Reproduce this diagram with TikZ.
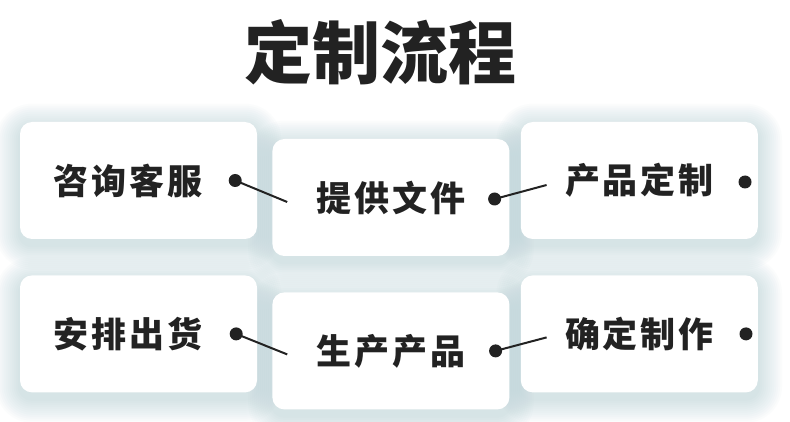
\documentclass[tikz,border=0pt]{standalone}
\usepackage{fontspec}
\usepackage{xcolor}
\usetikzlibrary{positioning,backgrounds}
\newfontfamily\cjk{Noto Sans CJK SC}
\newfontfamily\cjkbox{Noto Sans CJK SC}[LetterSpace=8]
\definecolor{inkgray}{HTML}{222222}
\definecolor{glow}{HTML}{A9C8CE}

\begin{document}
\begin{tikzpicture}[x=1pt, y=-1pt, node distance=15pt, >=latex]
    \tikzstyle{card}=[rectangle, fill=white, rounded corners=12pt, minimum width=237pt, minimum height=117pt, inner sep=0pt, text=inkgray, font=\cjkbox\bfseries\fontsize{35}{35}\selectfont]
    \tikzstyle{dot}=[circle, fill=inkgray, minimum size=13pt, inner sep=0pt]
    \tikzstyle{link}=[draw=inkgray, line width=2pt]

    \useasboundingbox (0,0) rectangle (790,422);

    \node[text=inkgray, font=\cjk\bfseries\fontsize{68}{68}\selectfont] (title) at (380,52) {定制流程};

    % cards
    \node[card] (consult) at (138.5,180.5) {咨询客服\hspace*{21pt}};
    \node[card, right=of consult, yshift=-17pt] (files) {提供文件};
    \node[card, right=11pt of files, yshift=17pt] (custom) {产品定制};
    \node[card, below=36pt of consult] (ship) {安排出货\hspace*{21pt}};
    \node[card, below=36pt of files] (produce) {生产产品};
    \node[card, below=36pt of custom] (confirm) {确定制作};

    % dots
    \node[dot] (dconsult) at ([xshift=-22pt]consult.east) {};
    \node[dot] (dfiles) at ([xshift=-15pt, yshift=-1.5pt]files.east) {};
    \node[dot] (dcustom) at ([xshift=-13pt, yshift=-1.5pt]custom.east) {};
    \node[dot] (dship) at ([xshift=-21pt]ship.east) {};
    \node[dot] (dproduce) at ([xshift=-14pt]produce.east) {};
    \node[dot] (dconfirm) at ([xshift=-12pt]confirm.east) {};

    \coordinate (efiles) at ([xshift=15pt, yshift=-4.5pt]files.west);
    \coordinate (ecustom) at ([xshift=26pt, yshift=-4.5pt]custom.west);
    \coordinate (eproduce) at ([xshift=15pt, yshift=-3.5pt]produce.west);
    \coordinate (econfirm) at ([xshift=26pt, yshift=-3.5pt]confirm.west);

    \draw[link] (dconsult.center) -- (efiles);
    \draw[link] (dfiles.center) -- (ecustom);
    \draw[link] (dship.center) -- (eproduce);
    \draw[link] (dproduce.center) -- (econfirm);

    % soft glow behind the cards
    \begin{scope}[on background layer]
        \fill[white] (0,0) rectangle (790,422);
        \foreach \c in {consult, files, custom, ship, produce, confirm}
            \foreach \d in {2,4,...,24}
                \fill[glow, opacity=0.045, rounded corners=12pt+\d pt]
                    ([xshift=-\d pt, yshift=\d pt-6pt]\c.north west) rectangle ([xshift=\d pt, yshift=-\d pt-6pt]\c.south east);
    \end{scope}
\end{tikzpicture}
\end{document}
